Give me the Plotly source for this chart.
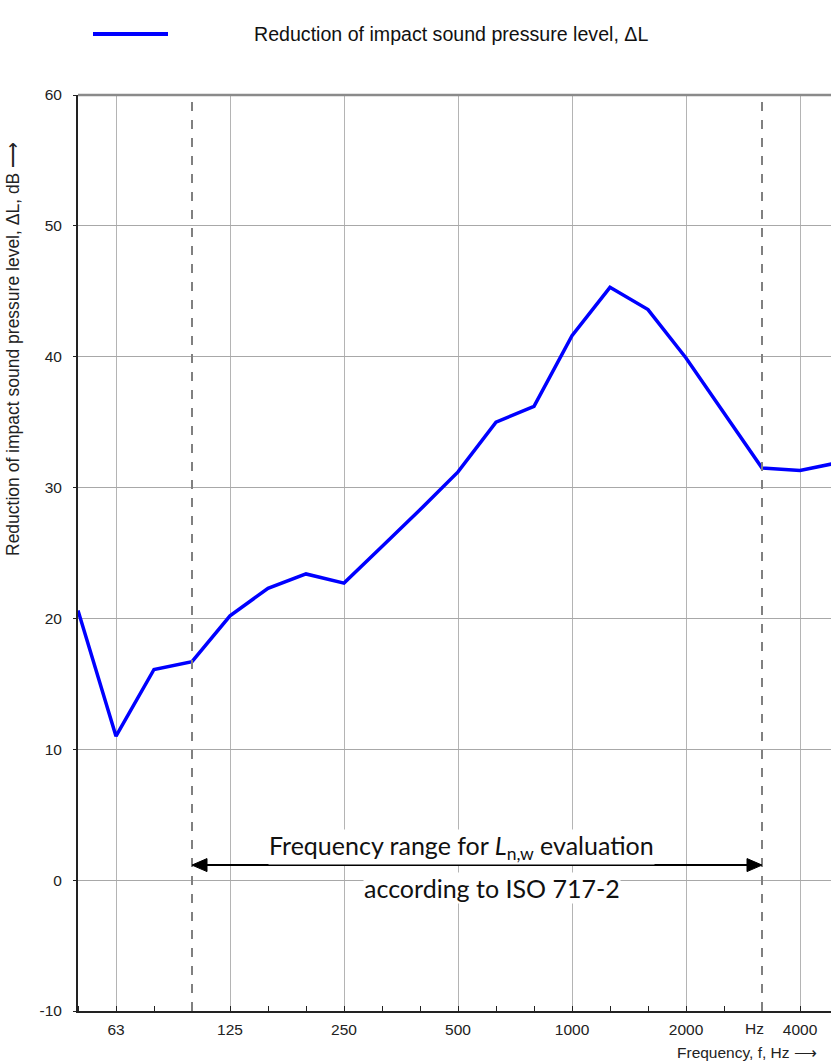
import plotly.graph_objects as go

bands = ["50", "63", "80", "100", "125", "160", "200", "250", "315", "400",
         "500", "630", "800", "1000", "1250", "1600", "2000", "2500", "3150", "4000", "5000"]
delta_L = [20.6, 11.0, 16.1, 16.7, 20.2, 22.3, 23.4, 22.7, 25.5, 28.3,
           31.2, 35.0, 36.2, 41.6, 45.3, 43.6, 39.9, 35.7, 31.5, 31.3, 31.9]
octave_labels = ["63", "125", "250", "500", "1000", "2000", "4000"]
y_ticks = [-10, 0, 10, 20, 30, 40, 50, 60]
y_ticktext = ["-10", "0", "10", "20", "30", "40", "50", "60"]
eval_range = ["100", "3150"]
arrow_level = 1.15

idx = list(range(len(bands)))
oct_idx = [bands.index(b) for b in octave_labels]
lo, hi = bands.index(eval_range[0]), bands.index(eval_range[1])

W, H = 831, 1062
L, R, T, B = 78, 0, 95, 51
x_max = (W - L - R) / 38.0

font_main = "Liberation Sans, Arial, sans-serif"

fig = go.Figure()
fig.add_trace(go.Scatter(
    x=idx, y=delta_L, mode="lines",
    line=dict(color="#0000FF", width=3.5),
    name="Reduction of impact sound pressure level, ΔL",
    showlegend=False, hoverinfo="skip"))

fig.update_layout(
    width=W, height=H,
    margin=dict(l=L, r=R, t=T, b=B),
    paper_bgcolor="white", plot_bgcolor="white",
    font=dict(family=font_main, size=15, color="#222"),
    xaxis=dict(
        range=[0, x_max], tickmode="array", tickvals=oct_idx, ticktext=octave_labels,
        showgrid=True, gridcolor="#b4b4b4", gridwidth=1.3, zeroline=False,
        ticks="", showline=True, linecolor="#222", linewidth=2,
        ticklabelstandoff=3,
        minor=dict(tickmode="array", tickvals=idx, ticks="inside", ticklen=5,
                   tickcolor="#222", tickwidth=1, showgrid=False),
        tickfont=dict(size=15.5, color="#222"),
    ),
    yaxis=dict(
        range=[-10, 60], tickmode="array", tickvals=y_ticks, ticktext=y_ticktext,
        showgrid=True, gridcolor="#a8a8a8", gridwidth=1.3, zeroline=False,
        showline=True, linecolor="#222", linewidth=2,
        ticks="outside", ticklen=3, tickcolor="#222", ticklabelstandoff=8,
        tickfont=dict(size=15.5, color="#222"),
    ),
)

# top border
fig.add_shape(type="line", xref="paper", yref="paper", x0=0, x1=1, y0=1, y1=1,
              line=dict(color="#8a8a8a", width=2.5))
# dashed evaluation limits
for i in (lo, hi):
    fig.add_shape(type="line", xref="x", yref="paper", x0=i, x1=i, y0=0, y1=1,
                  line=dict(color="#808080", width=2, dash="dash"))

# double arrow (line + two pixel-sized arrowheads anchored at the data positions)
fig.add_shape(type="line", xref="x", yref="y", x0=lo + 0.2, x1=hi - 0.2,
              y0=arrow_level, y1=arrow_level, line=dict(color="black", width=2))
fig.add_shape(type="path", xref="x", yref="y", xsizemode="pixel", ysizemode="pixel",
              xanchor=lo, yanchor=arrow_level, path="M 0 0 L 15 6.5 L 15 -6.5 Z",
              fillcolor="black", line=dict(color="black", width=1))
fig.add_shape(type="path", xref="x", yref="y", xsizemode="pixel", ysizemode="pixel",
              xanchor=hi, yanchor=arrow_level, path="M 0 0 L -15 6.5 L -15 -6.5 Z",
              fillcolor="black", line=dict(color="black", width=1))

ann_font = dict(family="Lato, Carlito, Calibri, sans-serif", size=25, color="#111")
fig.add_annotation(x=10.08, y=2.55, xref="x", yref="y", showarrow=False,
                   text="Frequency range for <i>L</i><sub>n,w</sub> evaluation",
                   font=ann_font, bgcolor="white", borderpad=0)
fig.add_annotation(x=10.9, y=-0.6, xref="x", yref="y", showarrow=False,
                   text="according to ISO 717-2",
                   font=ann_font, bgcolor="white", borderpad=0)

# Hz unit label in tick row
fig.add_annotation(x=17.8, y=0, xref="x", yref="paper", yanchor="top", yshift=-7,
                   showarrow=False, text="Hz", font=dict(size=15.5, color="#222"))

# axis titles
fig.add_annotation(x=1, y=0, xref="paper", yref="paper", xanchor="right", yanchor="top",
                   xshift=-12, yshift=-31, showarrow=False,
                   text="Frequency, f, Hz \u27f6", font=dict(size=15.5, color="#222"))
fig.add_annotation(x=0, y=(1011 - 558) / 916.0, xref="paper", yref="paper",
                   xanchor="center", yanchor="bottom", xshift=-65, textangle=-90,
                   showarrow=False,
                   text="Reduction of impact sound pressure level, \u0394L, dB \u27f6",
                   font=dict(size=17.5, color="#222"))

# legend (drawn manually to match the layout)
fig.add_shape(type="line", xref="paper", yref="paper",
              x0=(93 - L) / (W - L), x1=(168 - L) / (W - L),
              y0=1 + (95 - 34) / 916.0, y1=1 + (95 - 34) / 916.0,
              line=dict(color="#0000FF", width=4))
fig.add_annotation(x=(252 - L) / (W - L), y=1 + (95 - 34) / 916.0, xref="paper", yref="paper",
                   xanchor="left", yanchor="middle", showarrow=False,
                   text="Reduction of impact sound pressure level, \u0394L",
                   font=dict(size=19.6, color="#111"))

fig.write_html("out.html", post_script="document.body.style.margin='0';",
               config={"displayModeBar": False})
